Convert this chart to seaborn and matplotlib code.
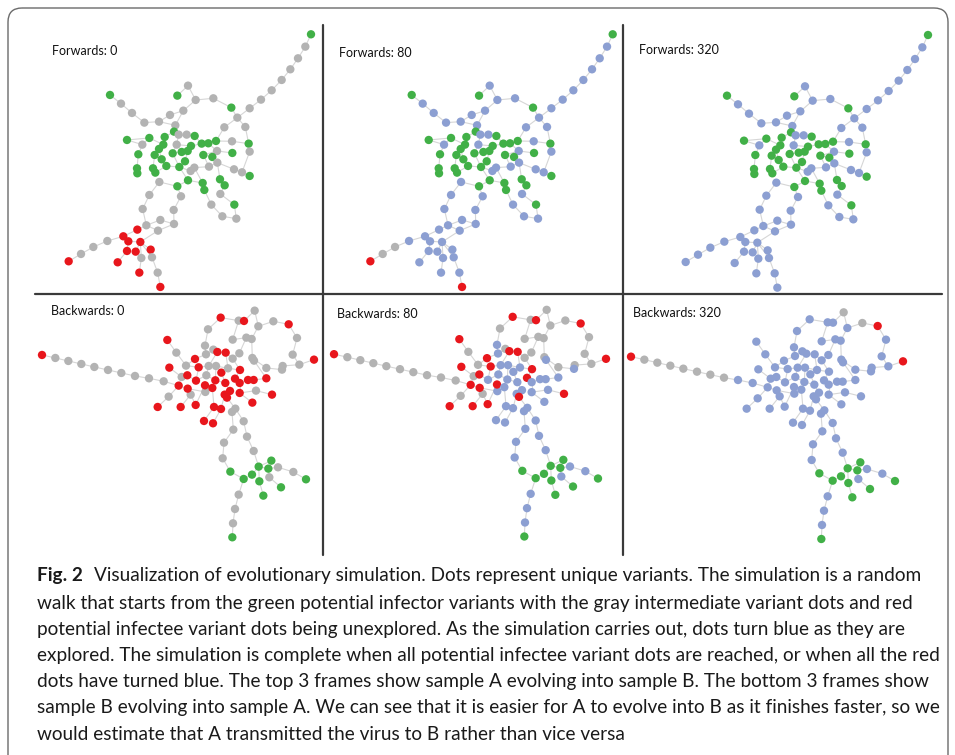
import pandas as pd
import numpy as np
import matplotlib
matplotlib.use("Agg")
import matplotlib.pyplot as plt
from matplotlib.collections import LineCollection
from matplotlib.patches import FancyBboxPatch
import seaborn as sns

sns.set_style("white")
plt.rcParams['font.family'] = ['Lato', 'DejaVu Sans']

# node colours
COLORS = {'g': '#41b047', 'r': '#e8161c', 'x': '#b3b3b3', 'b': '#8c9fd2'}

# ---- top graph (sample A -> B), layout units ----
TOP_X = [918, 901, 879, 856, 830, 800, 768, 734, 697, 679, 658, 625, 572, 549, 517, 535, 495, 462, 418, 381,
         348, 315, 511, 507, 521, 545, 569, 366, 433, 412, 479, 475, 462, 400, 449, 503, 515, 530, 548, 558,
         590, 610, 633, 681, 731, 734, 682, 636, 595, 622, 470, 484, 540, 396, 397, 444, 451, 523, 557, 568,
         612, 637, 687, 711, 734, 463, 549, 517, 593, 598, 645, 659, 528, 433, 413, 506, 466, 507, 424, 397,
         459, 619, 646, 688, 652, 694, 355, 370, 406, 307, 265, 228, 191, 366, 392, 437, 441, 409, 338, 403,
         458, 466, 721]
TOP_Y = [30, 67, 102, 135, 167, 198, 226, 252, 280, 250, 309, 222, 227, 184, 214, 259, 272, 292, 295, 266,
         238, 212, 303, 322, 331, 331, 335, 347, 341, 361, 338, 361, 374, 390, 392, 387, 361, 383, 380, 365,
         358, 357, 350, 351, 358, 382, 386, 380, 392, 398, 405, 425, 411, 432, 447, 432, 445, 428, 440, 430,
         427, 415, 435, 444, 455, 473, 468, 486, 476, 497, 465, 483, 516, 512, 554, 557, 587, 599, 603, 616,
         619, 541, 509, 541, 576, 583, 636, 651, 653, 650, 668, 689, 711, 680, 682, 676, 699, 701, 714, 745,
         745, 788, 308]
TOP_EDGES = [(0, 1), (1, 2), (2, 3), (3, 4), (4, 5), (5, 6), (6, 7), (7, 8), (8, 9), (8, 10), (8, 102),
             (9, 11), (11, 12), (12, 13), (13, 14), (12, 15), (15, 16), (16, 17), (17, 18), (18, 19), (19, 20),
             (20, 21), (17, 22), (15, 22), (22, 23), (23, 24), (24, 25), (25, 26), (26, 40), (40, 41), (41, 42),
             (42, 10), (42, 43), (43, 44), (44, 102), (44, 45), (45, 63), (63, 64), (63, 62), (62, 61), (61, 60),
             (60, 59), (59, 58), (58, 57), (57, 52), (52, 38), (38, 37), (37, 35), (35, 36), (36, 24), (30, 31),
             (31, 32), (32, 34), (28, 29), (29, 27), (29, 33), (33, 53), (53, 54), (28, 31), (34, 50), (50, 51),
             (51, 57), (55, 56), (56, 51), (34, 55), (36, 39), (39, 40), (39, 38), (47, 48), (48, 49), (41, 47),
             (46, 47), (48, 60), (49, 61), (61, 70), (70, 71), (71, 82), (82, 83), (83, 85), (85, 84), (84, 81),
             (81, 69), (69, 68), (68, 66), (66, 67), (67, 65), (57, 66), (65, 73), (73, 74), (74, 78), (78, 79),
             (79, 86), (86, 89), (89, 90), (90, 91), (91, 92), (86, 87), (87, 88), (88, 97), (97, 99), (88, 96),
             (96, 100), (100, 101), (87, 93), (93, 98), (88, 94), (88, 95), (78, 80), (80, 77), (77, 75),
             (75, 72), (72, 67), (76, 77), (76, 78), (80, 88), (23, 30), (32, 50), (35, 57), (59, 68), (27, 28)]
TOP_GREEN = [0, 9, 14, 21, 23, 26, 27, 28, 30, 31, 32, 33, 34, 35, 37, 38, 39, 40, 41, 42, 44, 46, 48, 49,
             50, 51, 52, 53, 54, 55, 56, 57, 64, 66, 67, 68, 69, 70, 71, 83]
FWD0_RED = [79, 86, 87, 88, 92, 93, 94, 95, 98, 99, 101]
FWD80_RED = [92, 101]
FWD80_GRAY = [90, 91]

# ---- bottom graph (sample B -> A), layout units ----
BOT_X = [27, 67, 106, 145, 184, 225, 265, 306, 348, 392, 437, 403, 430, 409, 446, 407, 374, 443, 488, 473,
         464, 517, 489, 463, 459, 486, 497, 516, 519, 541, 553, 578, 599, 640, 656, 619, 599, 658, 663, 563,
         617, 633, 665, 676, 721, 767, 792, 779, 843, 799, 749, 747, 700, 700, 717, 669, 658, 525, 527, 549,
         565, 585, 621, 520, 547, 577, 606, 620, 645, 662, 516, 538, 591, 575, 582, 620, 543, 564, 597, 607,
         632, 513, 540, 601, 642, 573, 662, 569, 592, 632, 657, 677, 715, 706, 735, 781, 819, 709, 679, 744,
         691, 617, 606, 600, 598]
BOT_Y = [179, 188, 197, 206, 215, 224, 233, 242, 249, 258, 271, 134, 172, 217, 245, 304, 335, 335, 329, 298,
         280, 290, 256, 240, 211, 191, 216, 151, 177, 163, 170, 172, 133, 127, 131, 174, 190, 188, 196, 67,
         76, 77, 46, 93, 78, 87, 128, 178, 193, 208, 212, 223, 218, 249, 298, 286, 322, 102, 212, 212,
         232, 219, 224, 240, 255, 263, 250, 263, 254, 254, 270, 278, 287, 298, 307, 293, 335, 341, 350, 340,
         378, 377, 384, 403, 424, 442, 467, 489, 529, 551, 538, 514, 496, 520, 516, 530, 552, 546, 558, 576,
         601, 598, 641, 684, 726]
BOT_EDGES = [(0, 1), (1, 2), (2, 3), (3, 4), (4, 5), (5, 6), (6, 7), (7, 8), (8, 9), (9, 10), (10, 14),
             (10, 15), (15, 16), (10, 20), (13, 14), (14, 23), (11, 12), (12, 24), (24, 25), (25, 28), (28, 27),
             (27, 57), (57, 39), (39, 40), (40, 41), (41, 42), (42, 43), (43, 44), (44, 45), (45, 46), (46, 47),
             (47, 49), (48, 49), (49, 50), (50, 51), (51, 52), (52, 37), (43, 34), (40, 32), (32, 33), (33, 34),
             (34, 37), (37, 38), (33, 35), (35, 36), (36, 31), (31, 30), (30, 29), (29, 28), (38, 53), (53, 69),
             (69, 68), (68, 67), (67, 66), (66, 62), (62, 61), (61, 59), (59, 58), (58, 26), (26, 24), (60, 61),
             (60, 65), (64, 65), (63, 64), (65, 72), (72, 73), (73, 74), (74, 79), (79, 78), (78, 83), (83, 85),
             (85, 87), (87, 88), (88, 89), (89, 101), (101, 102), (102, 103), (103, 104), (80, 79), (80, 84),
             (84, 86), (86, 91), (91, 90), (90, 89), (91, 92), (91, 93), (91, 98), (93, 94), (94, 95), (95, 96),
             (93, 97), (97, 99), (98, 100), (75, 67), (75, 55), (55, 54), (56, 75), (76, 77), (77, 73), (76, 71),
             (81, 76), (82, 77), (18, 70), (23, 22), (22, 63), (20, 19), (19, 18), (17, 19), (20, 21), (21, 70),
             (70, 71), (26, 22), (63, 58), (64, 71), (59, 64), (30, 58), (31, 61), (36, 62)]
BWD0 = ("rxxxxxxxxx" "rrxrxxrrrx" "rxrrxrrxxx" "rrxxxxxxxr" "xrxxxrxxrx"
        "xxxrrxrxxx" "rxrxrrrrrr" "rrrrrrrrxx" "xrrxxxxxgg" "ggggxxgxgg" "gxxxg")
BWD80 = ("rxxxxxxxxx" "rrxrxxrrrx" "rbbrxrrbbx" "rrxxxxxxbr" "xrxxxrxxrx"
         "xbxbrbbxbb" "bbrbbbrbbb" "rbbbrbbbbb" "bbbbbbbbgg" "ggggbbgbgg" "gbbbg")
BWD320 = ("rxxxxxxxbb" "bbbbbbbbbb" "bbbbbbbbbb" "bbbbbbbbbb" "bbxbxrbbrb"
          "bbbbbbbbbb" "bbbbbbbbbb" "bbbbbbbbbb" "bbbbbbbbgg" "ggggbbgbgg" "gbbbg")

FRAME_TITLES = ["Forwards: 0", "Forwards: 80", "Forwards: 320",
                "Backwards: 0", "Backwards: 80", "Backwards: 320"]

CAPTION = [
    "Visualization of evolutionary simulation. Dots represent unique variants. The simulation is a random",
    "walk that starts from the green potential infector variants with the gray intermediate variant dots and red",
    "potential infectee variant dots being unexplored. As the simulation carries out, dots turn blue as they are",
    "explored. The simulation is complete when all potential infectee variant dots are reached, or when all the red",
    "dots have turned blue. The top 3 frames show sample A evolving into sample B. The bottom 3 frames show",
    "sample B evolving into sample A. We can see that it is easier for A to evolve into B as it finishes faster, so we",
    "would estimate that A transmitted the virus to B rather than vice versa",
]


def top_states(frame):
    st = np.array(['x'] * len(TOP_X))
    if frame > 0:
        st[:] = 'b'
    if frame == 0:
        st[FWD0_RED] = 'r'
    elif frame == 80:
        st[FWD80_RED] = 'r'
        st[FWD80_GRAY] = 'x'
    st[TOP_GREEN] = 'g'
    return st


top_frames = [top_states(0), top_states(80), top_states(320)]
bot_frames = [np.array(list(BWD0)), np.array(list(BWD80)), np.array(list(BWD320))]

# panel placement: pixel offset of layout origin, layout units are 1/3 px
TOP_OFF = [(5, 24.3), (306.7, 24.3), (622, 25)]
BOT_OFF = [(33, 295.3), (325, 294.5), (622, 297)]
TITLE_POS = [(52, 51), (339, 53), (639, 50), (51, 311), (337, 314), (633, 313)]

fig = plt.figure(figsize=(9.55, 7.55), dpi=100)
ax = fig.add_axes([0, 0, 1, 1])

# outer rounded frame
ax.add_patch(FancyBboxPatch((8, 8), 940, 790, boxstyle="round,pad=0,rounding_size=14",
                            fc='none', ec='#6b6b6b', lw=1.0, zorder=1))


def draw_graph(xs, ys, edges, states, off):
    px = off[0] + np.array(xs) / 3.0
    py = off[1] + np.array(ys) / 3.0
    segs = [[(px[a], py[a]), (px[b], py[b])] for a, b in edges]
    ax.add_collection(LineCollection(segs, colors='#d6d6d6', linewidths=0.8, zorder=2))
    df = pd.DataFrame({'x': px, 'y': py, 'state': states})
    sns.scatterplot(data=df, x='x', y='y', hue='state', palette=COLORS, s=36, linewidth=0,
                    legend=False, ax=ax, zorder=3)


for i in range(3):
    draw_graph(TOP_X, TOP_Y, TOP_EDGES, top_frames[i], TOP_OFF[i])
    draw_graph(BOT_X, BOT_Y, BOT_EDGES, bot_frames[i], BOT_OFF[i])
ax.set_xlim(0, 955)
ax.set_ylim(755, 0)
ax.axis('off')

# panel dividers
ax.plot([322.5, 322.5], [25, 555], color='#3a3a3a', lw=1.6, zorder=4)
ax.plot([622.5, 622.5], [25, 555], color='#3a3a3a', lw=1.6, zorder=4)
ax.plot([35, 942], [294, 294], color='#3a3a3a', lw=1.6, zorder=4)

for (tx, ty), title in zip(TITLE_POS, FRAME_TITLES):
    ax.text(tx, ty, title, fontsize=9, color='#111111', va='center', ha='left', zorder=5)

# caption, fitted to the reference line widths
fig.canvas.draw()
renderer = fig.canvas.get_renderer()
scales = []
for idx, target in [(1, 879.0), (5, 896.0)]:
    probe = ax.text(37, 602, CAPTION[idx], fontsize=12, va='center')
    scales.append(target / probe.get_window_extent(renderer).width)
    probe.remove()
fs = 12 * np.mean(scales)

line_y = [576, 603, 629, 656, 682, 708, 735]
head = ax.text(37, line_y[0], "Fig. 2", fontsize=fs, fontweight='bold', va='center', color='#1a1a1a')
hw = head.get_window_extent(renderer).width
ax.text(37 + hw + 11, line_y[0], CAPTION[0], fontsize=fs, va='center', color='#1a1a1a')
for y, line in zip(line_y[1:], CAPTION[1:]):
    ax.text(37, y, line, fontsize=fs, va='center', color='#1a1a1a')

fig.savefig('out.png', dpi=100)
